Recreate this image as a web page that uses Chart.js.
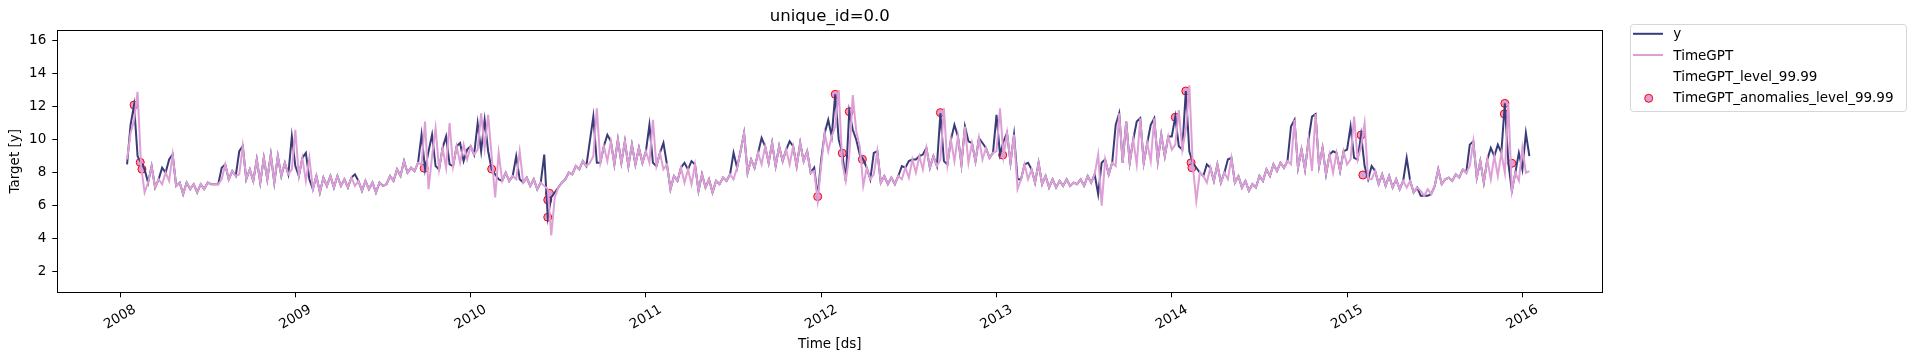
<!DOCTYPE html>
<html>
<head>
<meta charset="utf-8">
<script src="https://cdn.jsdelivr.net/npm/chart.js@4.4.1/dist/chart.umd.min.js"></script>
<style>
  html, body { margin: 0; padding: 0; background: #fff; }
  #chart { display: block; }
</style>
</head>
<body>
<canvas id="chart" width="1916" height="361"></canvas>
<script>
// series sampled every 0.02 year, starting 2008.04
const startYear = 2008.04;
const stepYear = 0.02;

const y2008 = [8.5,10.9,12.1,9.0,8.6,8.2,7.4,8.4,7.1,7.6,8.3,8.0,8.8,9.1,7.2,7.4,6.7,7.4,7.0,7.3,6.8,7.3,7.0,7.4,7.3,7.3,7.3,8.3,8.5,7.6,8.1,7.8,9.3,9.6,7.6,8.2,7.5,8.8,7.4,8.9,7.6,9.1,7.4,9.0,7.8,8.6,7.9,10.2];
const gpt2008 = [8.8,10.4,11.2,12.9,8.4,6.8,7.4,8.4,7.1,7.6,7.3,8.0,7.5,9.1,7.2,7.4,6.7,7.4,7.0,7.3,6.8,7.3,7.0,7.4,7.3,7.3,7.3,7.6,8.5,7.6,8.1,7.8,7.9,9.6,7.6,8.2,7.5,8.8,7.4,8.9,7.6,9.1,7.4,9.0,7.8,8.6,7.9,8.2];

const y2009 = [8.4,7.8,8.9,9.2,7.6,7.0,7.8,6.8,7.7,7.2,7.8,7.1,7.8,7.2,7.6,7.1,7.7,7.9,7.5,6.9,7.5,7.0,7.4,6.8,7.4,7.2,7.3,7.8,7.5,8.2,7.8,8.7,8.0,8.3,8.1,8.6,10.3,8.2,9.3,10.3,8.4,8.2,9.5,10.2,8.5,8.4,9.6,9.8,8.7,9.4];
const gpt2009 = [10.6,7.8,8.9,7.5,8.9,7.0,7.8,6.8,7.7,7.2,7.8,7.1,7.8,7.2,7.6,7.1,7.7,7.2,7.5,6.9,7.5,7.0,7.4,6.8,7.4,7.2,7.3,7.8,7.5,8.2,7.8,8.7,8.0,8.3,8.1,8.6,8.5,11.1,7.0,9.0,10.7,8.2,9.5,8.3,11.0,8.4,9.6,8.6,9.7,8.8];

const y2010 = [9.6,9.1,11.0,9.3,11.2,9.3,8.2,7.9,7.6,7.5,8.0,7.5,7.8,9.0,7.6,7.4,7.7,7.2,7.6,7.0,7.4,9.1,5.3,6.5,6.8,7.1,7.4,7.6,8.0,7.9,8.4,8.2,8.7,8.4,9.9,11.4,8.6,8.6,9.6,10.3,9.9,8.5,10.0,8.6,9.9,8.4,9.7,8.5,9.5,8.6];
const gpt2010 = [9.6,9.1,9.4,11.6,9.5,11.5,9.0,6.5,9.2,7.5,8.0,7.5,7.8,7.6,9.3,7.4,7.7,7.2,7.6,7.0,7.4,7.2,7.0,4.2,6.5,7.1,7.4,7.6,8.0,7.9,8.4,8.2,8.7,8.4,8.6,9.0,11.9,8.6,9.6,8.7,9.9,8.5,10.0,8.6,9.9,8.4,9.7,8.5,9.5,8.6];

const y2011 = [9.3,10.9,8.6,8.4,9.2,9.8,8.5,7.0,7.8,7.5,8.3,8.6,8.2,8.7,8.5,6.9,7.9,7.1,7.6,6.8,7.5,7.3,7.7,7.5,7.9,9.2,8.3,9.3,10.4,8.0,8.8,8.3,9.2,10.1,9.6,8.6,9.8,8.4,9.6,8.7,9.4,9.9,9.6,8.4,9.8,8.7,9.3,8.0,8.3,6.55];
const gpt2011 = [9.3,8.6,11.2,8.4,9.2,8.2,8.5,7.0,7.8,7.5,8.3,7.4,8.2,7.3,8.5,6.9,7.9,7.1,7.6,6.8,7.5,7.3,7.7,7.5,7.9,7.6,8.3,9.3,10.4,8.0,8.8,8.3,9.2,8.5,9.6,8.6,9.8,8.4,9.6,8.7,9.4,8.5,9.6,8.4,9.8,8.7,9.3,8.0,8.1,6.3];

const y2012 = [8.8,10.4,11.2,10.2,12.75,10.0,9.2,7.5,11.7,10.6,10.0,9.1,8.8,8.3,7.6,9.2,9.3,7.4,7.8,7.3,7.7,7.3,7.8,8.4,8.3,8.7,8.8,8.8,9.0,9.1,9.5,8.3,9.0,8.4,11.6,8.7,8.5,10.0,10.9,10.2,8.5,10.8,9.9,9.8,8.7,10.1,9.8,9.5,8.9,9.2];
const gpt2012 = [8.5,10.4,9.3,10.2,10.8,13.0,8.6,7.5,9.0,12.7,10.5,9.6,7.2,8.3,7.6,7.9,9.3,7.4,7.8,7.3,7.7,7.3,7.8,7.6,8.3,7.7,8.8,8.0,9.0,8.2,9.5,8.3,9.0,8.4,8.8,11.9,8.5,10.0,8.7,10.2,8.5,10.8,8.6,9.8,8.7,10.1,8.8,9.5,8.9,9.2];

const y2013 = [11.5,9.1,9.9,10.4,8.6,10.3,7.6,7.6,8.5,8.6,8.2,7.4,8.6,7.3,7.8,7.1,7.6,7.1,7.5,7.2,7.6,7.2,7.4,7.3,7.6,7.2,7.8,7.4,7.9,6.7,8.6,8.8,7.9,8.6,10.9,11.6,8.6,11.1,8.6,10.0,11.1,11.3,8.6,9.8,10.9,11.3,8.7,10.3,9.0,10.2];
const gpt2013 = [9.3,11.9,9.0,10.4,8.6,10.3,7.0,7.6,8.5,7.6,8.2,7.4,8.6,7.3,7.8,7.1,7.6,7.1,7.5,7.2,7.6,7.2,7.4,7.3,7.6,7.2,7.8,7.4,7.9,9.1,6.0,8.8,7.9,8.6,8.4,11.6,8.6,11.1,8.6,10.0,8.5,11.3,8.6,9.8,8.7,11.3,8.7,10.3,9.0,10.2];

const y2014 = [10.2,11.4,9.6,9.4,12.95,9.3,8.6,8.3,8.0,7.8,8.5,8.3,7.5,8.5,7.4,8.0,8.8,8.9,7.4,7.8,7.1,7.5,6.9,7.3,7.1,7.8,7.5,8.2,7.8,8.5,8.1,8.6,8.3,8.7,10.8,11.2,8.3,9.4,8.2,10.0,11.4,11.55,8.4,9.5,7.9,9.1,9.3,9.2,8.1,9.3];
const gpt2014 = [9.4,9.7,11.8,9.4,10.6,13.3,8.4,6.3,8.0,7.8,7.4,8.3,7.5,8.5,7.4,8.0,7.6,8.9,7.4,7.8,7.1,7.5,6.9,7.3,7.1,7.8,7.5,8.2,7.8,8.5,8.1,8.6,8.3,8.7,8.5,11.2,8.3,9.4,8.2,10.0,8.1,11.55,8.4,9.5,7.9,9.1,8.0,9.2,8.1,9.3];

const y2015 = [9.4,10.8,8.9,8.8,10.3,8.4,7.6,8.4,8.1,7.3,7.9,7.2,7.8,7.1,7.6,7.0,7.5,8.9,7.5,6.8,7.1,6.6,6.6,6.6,6.7,7.2,8.2,7.3,7.6,7.7,7.5,7.9,7.7,8.2,8.0,9.7,9.9,7.7,8.7,7.4,8.8,9.5,9.0,9.7,9.2,12.2,8.6,6.9,8.0,9.2];
const gpt2015 = [8.5,8.8,11.4,8.8,9.6,11.0,7.6,7.6,8.1,7.3,7.9,7.2,7.8,7.1,7.6,7.0,7.5,7.1,7.5,6.8,7.1,6.9,6.6,7.0,6.7,7.2,8.2,7.3,7.6,7.7,7.5,7.9,7.7,8.2,8.0,8.4,9.9,7.7,8.7,7.4,8.8,7.6,9.0,7.8,9.2,8.0,12.2,6.9,8.0,7.5];

const y2016 = [8.2,10.4,9.0];
const gpt2016 = [9.5,8.0,8.1];

// anomalies (decimal year, value)
const anomalyX = [2008.08,2008.115,2008.125,2009.735,2010.12,2010.44,2010.44,2010.45,2011.98,2012.08,2012.12,2012.16,2012.235,2012.68,2013.035,2014.02,2014.08,2014.11,2014.115,2015.08,2015.09,2015.897,2015.9,2015.94];
const anomalyY = [12.1,8.63,8.21,8.27,8.22,6.35,5.3,6.75,6.55,12.75,9.18,11.7,8.81,11.64,9.07,11.36,12.95,8.6,8.3,10.28,7.86,11.56,12.2,8.57];

const yearTicks = [2008,2009,2010,2011,2012,2013,2014,2015,2016];
const valueTicks = [2,4,6,8,10,12,14,16];
const legendLabels = ['y', 'TimeGPT', 'TimeGPT_level_99.99', 'TimeGPT_anomalies_level_99.99'];

const navy = '#393b79';
const pink = '#de9ed6';
const font = 'DejaVu Sans';

const yValues = [].concat(y2008, y2009, y2010, y2011, y2012, y2013, y2014, y2015, y2016);
const gptValues = [].concat(gpt2008, gpt2009, gpt2010, gpt2011, gpt2012, gpt2013, gpt2014, gpt2015, gpt2016);
const toPoints = vals => vals.map((v, i) => ({ x: startYear + i * stepYear, y: v }));

const decor = {
    id: 'decor',
    beforeDraw(chart) {
        const ctx = chart.ctx;
        ctx.save();
        ctx.fillStyle = '#fff';
        ctx.fillRect(0, 0, chart.width, chart.height);
        ctx.restore();
    },
    afterDraw(chart) {
        const ctx = chart.ctx;
        const a = chart.chartArea;
        const xs = chart.scales.x;
        ctx.save();

        // frame
        ctx.strokeStyle = '#000';
        ctx.lineWidth = 1;
        ctx.strokeRect(Math.round(a.left) + 0.5, Math.round(a.top) + 0.5, Math.round(a.right - a.left), Math.round(a.bottom - a.top));

        // rotated year labels
        ctx.fillStyle = '#000';
        ctx.font = '13.5px "' + font + '"';
        ctx.textAlign = 'center';
        ctx.textBaseline = 'middle';
        yearTicks.forEach(yr => {
            const px = xs.getPixelForValue(yr);
            ctx.save();
            ctx.translate(px, a.bottom + 25);
            ctx.rotate(-Math.PI / 6);
            ctx.fillText(String(yr), 0, 0);
            ctx.restore();
        });

        // title and axis labels
        const cx = (a.left + a.right) / 2;
        ctx.font = '16.5px "' + font + '"';
        ctx.fillText('unique_id=0.0', cx, 17);
        ctx.font = '13.5px "' + font + '"';
        ctx.fillText('Time [ds]', cx, 344);
        ctx.save();
        ctx.translate(15.5, (a.top + a.bottom) / 2);
        ctx.rotate(-Math.PI / 2);
        ctx.fillText('Target [y]', 0, 0);
        ctx.restore();

        // legend
        const lx = 1630, ly = 24, lw = 276, lh = 87;
        ctx.beginPath();
        ctx.roundRect(lx + 0.5, ly + 0.5, lw, lh, 3);
        ctx.fillStyle = 'rgba(255,255,255,0.8)';
        ctx.fill();
        ctx.strokeStyle = '#d6d6d6';
        ctx.stroke();

        const rows = [34.8, 56, 77.3, 98.3];
        ctx.lineWidth = 2;
        ctx.strokeStyle = navy;
        ctx.beginPath(); ctx.moveTo(1633, rows[0] - 1); ctx.lineTo(1663, rows[0] - 1); ctx.stroke();
        ctx.strokeStyle = pink;
        ctx.beginPath(); ctx.moveTo(1633, rows[1] - 1); ctx.lineTo(1663, rows[1] - 1); ctx.stroke();
        ctx.beginPath();
        ctx.arc(1648.7, rows[3], 4, 0, Math.PI * 2);
        ctx.fillStyle = pink;
        ctx.fill();
        ctx.lineWidth = 1;
        ctx.strokeStyle = '#ff0000';
        ctx.stroke();

        ctx.fillStyle = '#000';
        ctx.textAlign = 'left';
        ctx.font = '13.5px "' + font + '"';
        legendLabels.forEach((t, i) => ctx.fillText(t, 1673.3, rows[i]));
        ctx.restore();
    }
};

new Chart(document.getElementById('chart').getContext('2d'), {
    type: 'line',
    data: {
        datasets: [
            {
                label: 'TimeGPT_anomalies_level_99.99',
                data: anomalyX.map((x, i) => ({ x: x, y: anomalyY[i] })),
                showLine: false,
                pointRadius: 4,
                pointBackgroundColor: pink,
                pointBorderColor: '#ff0000',
                pointBorderWidth: 1,
                order: 3
            },
            {
                label: 'y',
                data: toPoints(yValues),
                borderColor: navy,
                borderWidth: 2,
                pointRadius: 0,
                tension: 0,
                order: 2
            },
            {
                label: 'TimeGPT',
                data: toPoints(gptValues),
                borderColor: pink,
                borderWidth: 2,
                pointRadius: 0,
                tension: 0,
                order: 1
            }
        ]
    },
    options: {
        responsive: false,
        animation: false,
        devicePixelRatio: 1,
        layout: { padding: { left: 0, top: 30.3, right: 313.7, bottom: 0 } },
        plugins: {
            legend: { display: false },
            title: { display: false },
            tooltip: { enabled: false }
        },
        scales: {
            x: {
                type: 'linear',
                min: 2007.642,
                max: 2016.456,
                afterBuildTicks: s => { s.ticks = yearTicks.map(v => ({ value: v })); },
                afterFit: s => { s.height = 68.7; },
                border: { display: false },
                grid: { drawOnChartArea: false, drawTicks: true, tickLength: 5, color: '#000', lineWidth: 1 },
                ticks: { color: 'rgba(0,0,0,0)', autoSkip: false, maxRotation: 0 }
            },
            y: {
                type: 'linear',
                min: 0.75,
                max: 16.63,
                afterBuildTicks: s => { s.ticks = valueTicks.map(v => ({ value: v })); },
                afterFit: s => { s.width = 57.3; },
                border: { display: false },
                grid: { drawOnChartArea: false, drawTicks: true, tickLength: 5, color: '#000', lineWidth: 1 },
                ticks: { color: '#000', padding: 6, font: { family: font, size: 13.5 } }
            }
        }
    },
    plugins: [decor]
});
</script>
</body>
</html>
